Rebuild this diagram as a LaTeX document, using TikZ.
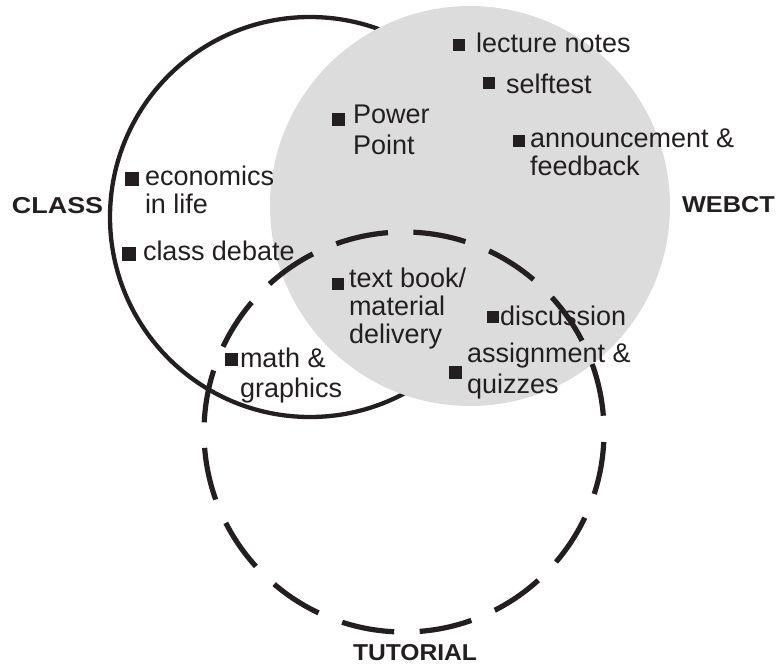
\documentclass[tikz,border=0pt]{standalone}
\usepackage{fontspec}
\setmainfont{Liberation Sans}
\usepackage{graphicx}
\definecolor{ink}{HTML}{231F20}
\definecolor{webgray}{HTML}{DCDCDC}
\newcommand{\lines}[1]{\begin{tabular}[t]{@{}l@{}}#1\end{tabular}}
\begin{document}
\begin{tikzpicture}[x=1pt,y=-1pt,
  item/.style={anchor=base west, inner sep=0pt, outer sep=0pt, text=ink, font=\fontsize{27}{28}\selectfont},
  bul/.style={fill=ink, minimum size=12pt, inner sep=0pt, outer sep=0pt, anchor=north west},
  lab/.style={anchor=base west, inner sep=0pt, outer sep=0pt, text=ink, font=\bfseries\fontsize{23}{26}\selectfont},
  classring/.style={draw=ink, line width=4.3pt},
  tutring/.style={draw=ink, line width=5.2pt, dash pattern=on 53pt off 25.5pt, dash phase=68.5pt}]
\useasboundingbox (0,0) rectangle (776,664);
% circles
\path[classring] (310,217) circle[radius=200];
\fill[webgray] (470,206) circle[radius=200];
\path[tutring] (404,432) circle[radius=200];
% labels
\node[lab] (class) at (12,213) {\scalebox{1.17}[1]{CLASS}};
\node[lab] (webct) at (682,212) {\scalebox{1.1}[1]{WEBCT}};
\node[lab] (tutorial) at (353,660) {\scalebox{1.07}[1]{TUTORIAL}};
% items
\node[bul] (b1) at (453,39) {};
\node[item] (t1) at (476,52) {lecture notes};
\node[bul] (b2) at (483,77) {};
\node[item] (t2) at (506,93) {selftest};
\node[bul, minimum size=11.5pt] (b3) at (513,135) {};
\node[item] (t3) at (530,147) {\lines{announcement \&\\feedback}};
\node[bul, minimum size=13pt] (b4) at (332,113) {};
\node[item] (t4) at (353,123) {\lines{Power\\[3pt]Point}};
\node[bul, minimum size=13.5pt] (b5) at (125,172) {};
\node[item] (t5) at (145,185) {\lines{economics\\in life}};
\node[bul, minimum size=13.5pt] (b6) at (122,247) {};
\node[item] (t6) at (143,260) {class debate};
\node[bul] (b7) at (332,278) {};
\node[item] (t7) at (349,287) {\lines{text book/\\material\\delivery}};
\node[bul] (b8) at (487,311) {};
\node[item] (t8) at (500,325) {discussion};
\node[bul, minimum size=13pt] (b9) at (449,366) {};
\node[item] (t9) at (467,362) {\lines{assignment \&\\[3pt]quizzes}};
\node[bul, minimum size=13pt] (b10) at (225,353) {};
\node[item] (t10) at (240,367) {\lines{math \&\\[2pt]graphics}};
\end{tikzpicture}
\end{document}
